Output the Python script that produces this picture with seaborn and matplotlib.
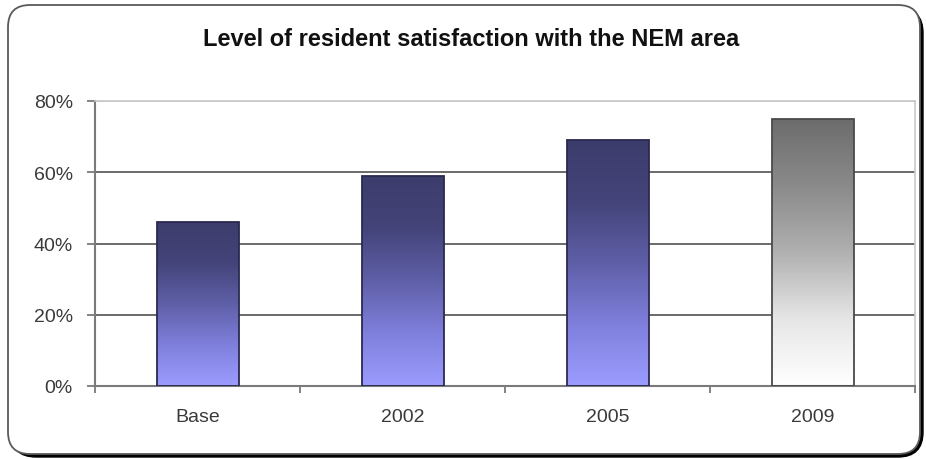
import numpy as np
import pandas as pd
import matplotlib
matplotlib.use("Agg")
import matplotlib.pyplot as plt
import seaborn as sns
from matplotlib.colors import LinearSegmentedColormap
from matplotlib.patches import FancyBboxPatch
from matplotlib.ticker import FixedLocator, FuncFormatter

# ---- data ----
categories = ["Base", "2002", "2005", "2009"]
values = [46, 59, 69, 75]
y_ticks = [0, 20, 40, 60, 80]
title_text = "Level of resident satisfaction with the NEM area"

sns.set_theme(style="white")
plt.rcParams['font.family'] = ['Liberation Sans', 'DejaVu Sans']

W, H = 926, 460
fig = plt.figure(figsize=(W / 100, H / 100), dpi=100)
fig.patch.set_facecolor("white")

# ---- outer rounded frame with shadow ----
px = 1 / 100.0
shadow = FancyBboxPatch((11 * px, 2 * px), 912 * px, 449 * px,
                        boxstyle="round,pad=0,rounding_size=0.25",
                        transform=fig.dpi_scale_trans, facecolor="black",
                        edgecolor="black", lw=1, zorder=-2)
frame = FancyBboxPatch((8 * px, 5 * px), 912 * px, 449 * px,
                       boxstyle="round,pad=0,rounding_size=0.22",
                       transform=fig.dpi_scale_trans, facecolor="white",
                       edgecolor="#5a5a5a", lw=1.3, zorder=-1)
fig.add_artist(shadow)
fig.add_artist(frame)

# ---- axes ----
ax = fig.add_axes([95 / W, 73 / H, 820 / W, 285 / H])
ax.set_zorder(2)
ax.set_facecolor("white")
ax.patch.set_alpha(0)

df = pd.DataFrame({"cat": categories, "val": values})
sns.barplot(data=df, x="cat", y="val", ax=ax, width=0.4, color="white",
            edgecolor="#2a2a50", linewidth=1.3, saturation=1, zorder=3)

ax.set_xlim(-0.5, len(categories) - 0.5)
ax.set_ylim(0, 80)

blue_cmap = LinearSegmentedColormap.from_list(
    "blue", ["#9c9cff", "#7f7fdc", "#5f5fa8", "#44447a", "#3c3c6c"])
gray_cmap = LinearSegmentedColormap.from_list(
    "gray", ["#ffffff", "#e6e6e6", "#b0b0b0", "#8a8a8a", "#6c6c6c"])
grad = np.linspace(0, 1, 256).reshape(-1, 1)

for i, patch in enumerate(ax.patches):
    x0 = patch.get_x()
    w = patch.get_width()
    h = patch.get_height()
    cmap = gray_cmap if i == len(ax.patches) - 1 else blue_cmap
    if i == len(ax.patches) - 1:
        patch.set_edgecolor("#4a4a4a")
    patch.set_facecolor("none")
    im = ax.imshow(grad, cmap=cmap, origin="lower", aspect="auto",
                   extent=[x0, x0 + w, 0, h], zorder=2.5,
                   interpolation="bilinear")
    im.set_clip_path(patch)

ax.set_xlim(-0.5, len(categories) - 0.5)
ax.set_ylim(0, 80)
ax.set_aspect("auto")

# ---- grid & spines ----
ax.yaxis.set_major_locator(FixedLocator(y_ticks))
ax.yaxis.set_major_formatter(FuncFormatter(lambda v, p: f"{int(v)}%"))
ax.grid(axis="y", color="#6a6a6a", lw=1.4, zorder=1)
ax.grid(axis="x", visible=False)
ax.set_axisbelow(True)
for gl, t in zip(ax.get_ygridlines(), y_ticks):
    if t == y_ticks[-1]:
        gl.set_color("#c4c4c4")
        gl.set_linewidth(1.2)

for side in ["left", "bottom"]:
    ax.spines[side].set_color("#7a7a7a")
    ax.spines[side].set_linewidth(1.5)
for side in ["top", "right"]:
    ax.spines[side].set_color("#c8c8c8")
    ax.spines[side].set_linewidth(1.2)

ax.set_xlabel("")
ax.set_ylabel("")

ax.tick_params(axis="y", which="major", direction="out", length=6, width=1.3,
               color="#7a7a7a", labelsize=14, labelcolor="#3a3a3a", pad=10,
               left=True)
ax.set_xticks(range(len(categories)))
ax.set_xticklabels(categories)
ax.xaxis.set_minor_locator(FixedLocator([i - 0.5 for i in range(len(categories) + 1)]))
ax.tick_params(axis="x", which="major", length=0, labelsize=14,
               labelcolor="#3a3a3a", pad=16)
ax.tick_params(axis="x", which="minor", direction="out", length=5, width=1.3,
               color="#7a7a7a", bottom=True)

fig.text(471 / W, 1 - 40 / H, title_text, ha="center", va="center",
         fontsize=17, fontweight="bold", color="#111111")

fig.savefig("out.png", dpi=100, facecolor="white")
